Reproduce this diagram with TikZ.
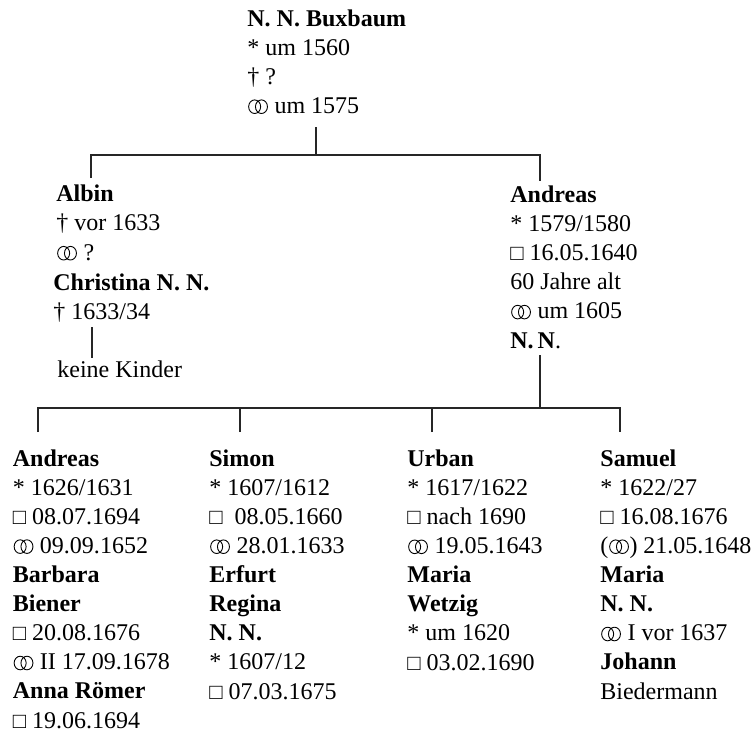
\documentclass[tikz,border=0pt]{standalone}
\usepackage{fontspec}
\setmainfont{Liberation Serif}
\newcommand\marr{\hspace{0.4pt}\tikz[baseline=0pt,x=1pt,y=1pt]{\draw[line width=0.45pt,black] (3.25,3.4) ellipse[x radius=3,y radius=3.4] (6.65,3.4) ellipse[x radius=3,y radius=3.4];}\hspace{0.3pt}}
\newcommand\sqbox{{\fontsize{11}{11}\selectfont □}}
\tikzset{
  person/.style={anchor=base west, inner sep=0pt, align=left,
    font=\fontsize{12}{14.55}\selectfont},
  conn/.style={draw=black!85, line width=0.6pt},
}
\begin{document}
\begin{tikzpicture}[x=0.5pt,y=-0.5pt]
\useasboundingbox (0,0) rectangle (754,735);
% persons (anchor = baseline of last line)
\node[person] (bux) at (247,113.5) {\textbf{N. N. Buxbaum}\\* um 1560\\† ?\\\marr{} um 1575};
\node[person] (albin) at (56,260) {\textbf{Albin}\\† vor 1633\\\marr{} ?};
\node[person] (chris) at (53,319.5) {\textbf{Christina N. N.}\\† 1633/34};
\node[person] (keine) at (57,377) {keine Kinder};
\node[person] (andr) at (510,348) {\textbf{Andreas}\\* 1579/1580\\\sqbox{} 16.05.1640\\60 Jahre alt\\\marr{} um 1605\\\textbf{N.\,N}.};
\node[person] (c1) at (12.5,728) {\textbf{Andreas}\\* 1626/1631\\\sqbox{} 08.07.1694\\\marr{} 09.09.1652\\\textbf{Barbara}\\\textbf{Biener}\\\sqbox{} 20.08.1676\\\marr{} II 17.09.1678\\\textbf{Anna Römer}\\\sqbox{} 19.06.1694};
\node[person] (c2) at (209,699) {\textbf{Simon}\\* 1607/1612\\\sqbox{}\ \ 08.05.1660\\\marr{} 28.01.1633\\\textbf{Erfurt}\\\textbf{Regina}\\\textbf{N. N.}\\* 1607/12\\\sqbox{} 07.03.1675};
\node[person] (c3) at (407,670) {\textbf{Urban}\\* 1617/1622\\\sqbox{} nach 1690\\\marr{} 19.05.1643\\\textbf{Maria}\\\textbf{Wetzig}\\* um 1620\\\sqbox{} 03.02.1690};
\node[person] (c4) at (600,699) {\textbf{Samuel}\\* 1622/27\\\sqbox{} 16.08.1676\\(\marr) 21.05.1648\\\textbf{Maria}\\\textbf{N. N.}\\\marr{} I vor 1637\\\textbf{Johann}\\Biedermann};
% connector points
\coordinate (bux-s) at (316,127);
\coordinate (j-top) at (316,155);
\coordinate (albin-t) at (91,178);
\coordinate (andr-t) at (540,181);
\coordinate (chris-s) at (92,327);
\coordinate (keine-t) at (92,358);
\coordinate (andr-s) at (540,355);
\coordinate (j-bot) at (540,408);
\coordinate (c1-t) at (38,432);
\coordinate (c2-t) at (240,432);
\coordinate (c3-t) at (432,432);
\coordinate (c4-t) at (620,432);
% connectors
\draw[conn] (bux-s) -- (j-top);
\draw[conn] (albin-t) |- (j-top) -| (andr-t);
\draw[conn] (chris-s) -- (keine-t);
\draw[conn] (andr-s) -- (j-bot);
\draw[conn] (c1-t) |- (j-bot) -| (c4-t);
\draw[conn] (c2-t) -- (c2-t |- j-bot);
\draw[conn] (c3-t) -- (c3-t |- j-bot);
\end{tikzpicture}
\end{document}
